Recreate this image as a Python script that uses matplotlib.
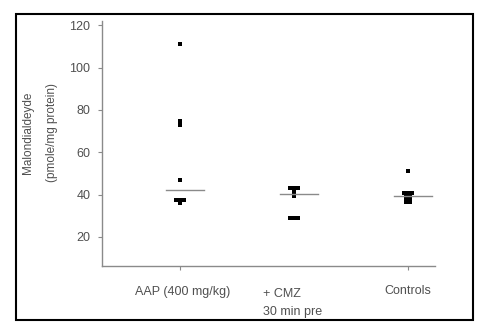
import matplotlib
matplotlib.use("Agg")
import matplotlib.pyplot as plt
from matplotlib.patches import Rectangle
from matplotlib.transforms import blended_transform_factory
import numpy as np

plt.rcParams['font.family'] = ['Liberation Sans', 'DejaVu Sans']

categories = ["AAP (400 mg/kg)", "+ CMZ\n30 min pre", "Controls"]
aap_values = [111, 75, 73, 47, 37.5, 37.5, 37.5, 36]
cmz_values = [43, 43, 43, 42, 40.5, 39.5, 29, 29, 29]
ctrl_values = [51, 41, 41, 41, 39.5, 39.5, 38, 38, 36.5, 36.5]
group_values = [aap_values, cmz_values, ctrl_values]
medians = [float(np.median(v)) for v in group_values]
yticks = [20, 40, 60, 80, 100, 120]

fig = plt.figure(figsize=(4.89, 3.33), dpi=100)
ax = fig.add_axes([102/489, 1-266/333, 333/489, 245/333])

gray = "#8a8a8a"
txt = "#505050"
spacing = 0.038
for i, vals in enumerate(group_values):
    xs, ys = [], []
    uniq = {}
    for v in vals:
        uniq[v] = uniq.get(v, 0) + 1
    for v, n in uniq.items():
        offs = (np.arange(n) - (n - 1) / 2) * spacing
        for o in offs:
            xs.append(i + o)
            ys.append(v)
    ax.plot(xs, ys, 's', color='black', markersize=2.4, markeredgewidth=0, linestyle='none')
    ax.plot([i - 0.12, i + 0.21], [medians[i], medians[i]], color=gray, lw=1.0)

ax.set_xlim(-0.684, 2.237)
ax.set_ylim(6.3, 122)
ax.set_yticks(yticks)
ax.set_yticklabels([str(t) for t in yticks], fontsize=9, color=txt)
ax.tick_params(axis='y', length=3, width=0.8, color=gray, pad=5.5)
ax.set_xticks([0, 2])
ax.set_xticklabels([])
ax.tick_params(axis='x', length=3, width=0.8, color=gray)
for s in ['top', 'right']:
    ax.spines[s].set_visible(False)
for s in ['left', 'bottom']:
    ax.spines[s].set_color(gray)
    ax.spines[s].set_linewidth(1.0)

trans = blended_transform_factory(ax.transData, fig.transFigure)
ax.text(0.02, 1-292/333, categories[0], transform=trans, ha='center', va='center', fontsize=9, color=txt)
ax.text(0.73, 1-303/333, categories[1], transform=trans, ha='left', va='center', fontsize=9, color=txt, linespacing=1.75)
ax.text(2.0, 1-291/333, categories[2], transform=trans, ha='center', va='center', fontsize=9, color=txt)

fig.text(40/489, 1-133/333, "Malondialdeyde\n(pmole/mg protein)", rotation=90,
         ha='center', va='center', fontsize=8.5, color=txt, linespacing=2.3, multialignment='center')

fig.patches.append(Rectangle((16/489, 1-320/333), 457/489, 306/333, transform=fig.transFigure,
                             fill=False, edgecolor='black', lw=1.5))

fig.savefig("out.png", dpi=100)
